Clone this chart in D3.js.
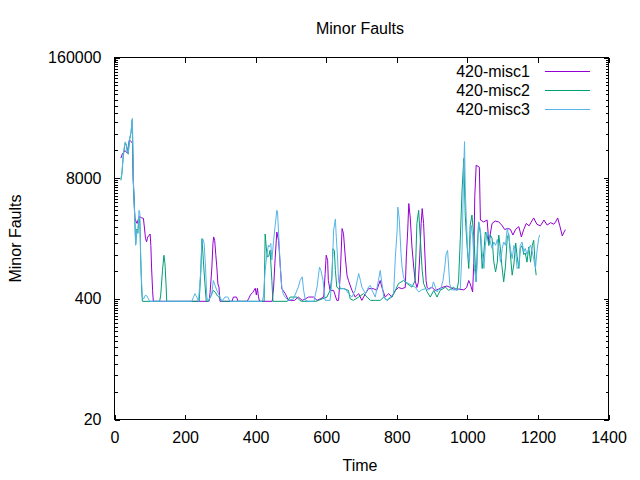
<!DOCTYPE html>
<html>
<head>
<meta charset="utf-8">
<script src="https://cdn.jsdelivr.net/npm/d3@7"></script>
<style>
  body { margin: 0; background: #fff; }
  text { font-family: "Liberation Sans", Arial, sans-serif; }
</style>
</head>
<body>
<div id="vis"></div>
<script>

// series names and colours (gnuplot defaults)
var seriesNames = ["420-misc1", "420-misc2", "420-misc3"];
var seriesColors = ["#9400d3", "#009e73", "#56b4e9"];

var xTicks = [0, 200, 400, 600, 800, 1000, 1200, 1400];
var yTicks = [20, 400, 8000, 160000];

// [time, minor faults]
var misc1 = [[18,13150],[23,14800],[30,15800],[36,15000],[42,20500],[44,20500],[51,19000],[53,7600],[58,2900],[64,2600],[70,3100],[76,3000],[82,2950],[88,1780],[91,1650],[94,1850],[101,2000],[103,1500],[105,880],[108,490],[110,376],
  [150,376],[200,376],[240,376],[268,376],[271,470],[276,880],[279,1580],[281,1860],[284,1700],[287,1200],[290,880],[293,580],[296,536],[299,376],
  [333,376],[337,418],[346,418],[350,376],[376,376],[380,400],[385,440],[392,470],[399,520],[402,440],[405,520],[408,420],[411,376],
  [447,376],[451,536],[455,1050],[460,2100],[465,1700],[470,880],[474,515],[484,455],[493,385],[510,385],[521,418],[532,385],[541,400],[550,418],[564,418],[574,385],[583,400],[593,418],[597,750],[600,1180],[604,1040],[606,630],[611,493],[621,493],[630,385],[635,385],[640,750],[645,2290],[649,2020],[654,1130],[659,716],[663,630],[673,493],[682,418],[692,455],[701,385],[711,455],[720,515],[734,515],[743,493],[753,630],[758,530],[767,418],[777,455],[786,418],[796,493],[805,530],[814,515],[824,530],[827,1130],[831,2200],[834,4260],[838,3050],[843,1450],[848,880],[852,630],[857,530],[861,600],[865,1130],[869,2600],[872,3760],[876,2600],[880,1130],[883,630],[886,530],[890,515],[900,530],[909,493],[919,510],[928,530],[942,550],[952,530],[961,510],[975,510],[990,500],[998,530],[1004,630],[1008,580],[1015,475],[1018,960],[1021,5030],[1025,11050],[1034,10500],[1037,2830],[1046,2700],[1056,2830],[1061,1600],[1065,2000],[1070,2600],[1079,2760],[1089,2700],[1098,2480],[1106,2230],[1113,2300],[1122,2250],[1129,1950],[1137,2250],[1146,2400],[1153,1860],[1160,2250],[1167,2600],[1175,2450],[1180,2650],[1188,2980],[1197,2550],[1207,2450],[1217,2830],[1226,2500],[1236,2650],[1245,2550],[1250,2700],[1256,2980],[1262,2450],[1269,1910],[1274,2100],[1278,2230]];

var misc2 = [[18,7600],[21,9000],[25,14000],[30,19000],[33,18500],[36,15800],[39,14500],[42,20000],[47,25000],[49,31000],[50.5,34000],[53.4,7600],[58,2600],[60,1550],[63,2250],[66,2050],[69.5,3000],[72,2600],[74,1150],[77,500],[79,376],
  [128,376],[131,440],[136,810],[140,1180],[143,960],[146,580],[148,376],
  [240,376],[244,700],[248,1780],[252,1000],[256,600],[260,376],[266,376],[272,418],[280,493],[286,470],[292,430],[298,410],[304,376],
  [424,376],[427,2000],[430,1450],[433,1130],[437,1150],[441,1340],[446,630],[449,376],[490,376],[498,418],[517,418],[525,385],[531,376],[571,376],[602,418],[611,493],[616,690],[619,1390],[623,1330],[626,810],[630,535],[635,515],[649,515],[663,493],[668,400],[677,385],[692,418],[706,455],[716,418],[725,385],[739,385],[753,385],[763,418],[772,385],[786,418],[796,493],[805,585],[819,630],[829,585],[843,535],[852,630],[857,2600],[862,3600],[867,1710],[872,810],[876,585],[886,475],[895,418],[905,493],[914,418],[923,493],[938,535],[947,493],[961,535],[970,493],[975,610],[980,1780],[985,6000],[990,13100],[994,3200],[999,1510],[1004,850],[1008,2480],[1013,3200],[1018,1950],[1023,850],[1025,610],[1028,1390],[1032,2700],[1037,2000],[1042,850],[1047,1300],[1051,2100],[1056,1950],[1061,1500],[1065,1950],[1070,1800],[1075,1000],[1080,780],[1085,1000],[1089,1950],[1094,1350],[1098,900],[1103,610],[1108,900],[1113,1800],[1117,2020],[1122,1200],[1127,720],[1132,950],[1137,1600],[1141,1150],[1146,850],[1150,1400],[1155,1500],[1160,1200],[1164,1250],[1169,995],[1174,1450],[1179,995],[1184,1510],[1188,1710],[1193,850],[1195,720]];

var misc3 = [[18,7760],[21,9000],[25,14750],[30,19700],[33,18800],[36,16000],[39,14750],[42,20600],[47,25300],[49,31200],[50.6,35300],[53.4,7640],[58,2590],[60,1510],[63,2200],[66,2020],[69.5,3600],[72,3330],[74,1230],[77,585],[79,418],[83,400],[87,436],[92,430],[96,400],[100,376],
  [219,376],[224,420],[228,455],[233,420],[238,376],[244.5,810],[247,1450],[250,1780],[254,1580],[258,880],[261.5,418],[266,376],[271,420],[275,430],[280,630],[285,560],[290,493],[295,455],[304,376],[313,418],[321,418],[327,376],
  [418,376],[422,420],[427,810],[431,1130],[436,1510],[439,1450],[443,1580],[446,1050],[451,1710],[455,2400],[460,3600],[462,3450],[467,1450],[470,880],[474,536],[478,455],[483,418],[493,385],[507,400],[521,536],[526,630],[532,690],[536,493],[541,385],[550,376],[565,376],[574,536],[581,880],[585,810],[591,630],[594,493],[597,385],[611,385],[616,630],[621,2200],[626,2900],[628,2020],[632,1130],[635,630],[640,515],[654,515],[663,455],[673,418],[682,493],[692,750],[697,630],[701,536],[711,455],[720,536],[725,560],[730,493],[739,418],[748,630],[753,810],[758,585],[763,418],[772,385],[782,418],[791,455],[796,1130],[801,2200],[803,3900],[807,2900],[812,1230],[815,880],[819,690],[824,610],[834,585],[843,558],[852,536],[862,475],[871,500],[881,515],[890,500],[900,536],[904,610],[909,536],[914,475],[919,510],[924,500],[931,632],[936,880],[940,1230],[944,1330],[947,880],[950,584],[955,500],[971,500],[980,515],[985,1330],[989,8000],[992,19800],[994,6200],[997,2950],[1001,1280],[1006,995],[1008,1640],[1011,2480],[1015,1950],[1020,850],[1025,610],[1028,1000],[1032,2700],[1037,2200],[1042,1280],[1047,850],[1051,1510],[1056,2100],[1061,1950],[1065,1640],[1070,1400],[1075,1640],[1080,1510],[1085,1750],[1089,1400],[1094,995],[1099,1400],[1103,1640],[1108,1510],[1113,2290],[1117,1950],[1122,1400],[1127,1080],[1132,1510],[1137,1280],[1141,850],[1146,900],[1150,1510],[1155,1640],[1160,1280],[1164,1400],[1169,1200],[1174,1400],[1179,1510],[1184,1280],[1188,1080],[1193,850],[1197,1280],[1202,1780],[1205,1950]];

var allSeries = [misc1, misc2, misc3];

var W = 640, H = 480,
    plotLeft = 114.5, plotRight = 608.5, plotTop = 57.5, plotBottom = 419.5;

// minor ticks at k * 20^n, like gnuplot's log base 20 axis
var yMinor = [];
[20, 400, 8000].forEach(function(b) {
  for (var k = 2; k < 20; k++) yMinor.push(k * b);
});

var x = d3.scaleLinear().domain([0, 1400]).range([plotLeft, plotRight]);
var y = d3.scaleLog().base(20).domain([20, 160000]).range([plotBottom, plotTop]);

var svg = d3.select("#vis")
  .append("svg")
    .attr("width", W)
    .attr("height", H)
    .style("background", "#fff");

function styleAxis(g) {
  g.select(".domain").remove();
  g.selectAll("line").attr("stroke", "#000").attr("shape-rendering", "crispEdges");
  g.selectAll("text")
    .attr("fill", "#000")
    .style("font-family", "'Liberation Sans', Arial, sans-serif")
    .style("font-size", "16px");
}

// axes: labelled on left/bottom, mirrored ticks on right/top
svg.append("g").attr("transform", "translate(" + plotLeft + ",0)")
  .call(d3.axisLeft(y).tickValues(yTicks).tickSize(-5).tickPadding(13).tickFormat(d3.format("d")))
  .call(styleAxis);
svg.append("g").attr("transform", "translate(" + plotLeft + ",0)")
  .call(d3.axisLeft(y).tickValues(yMinor).tickSize(-3).tickFormat(""))
  .call(styleAxis);
svg.append("g").attr("transform", "translate(" + plotRight + ",0)")
  .call(d3.axisRight(y).tickValues(yTicks).tickSize(-5).tickFormat(""))
  .call(styleAxis);
svg.append("g").attr("transform", "translate(" + plotRight + ",0)")
  .call(d3.axisRight(y).tickValues(yMinor).tickSize(-3).tickFormat(""))
  .call(styleAxis);
svg.append("g").attr("transform", "translate(0," + plotBottom + ")")
  .call(d3.axisBottom(x).tickValues(xTicks).tickSize(-5).tickPadding(12).tickFormat(d3.format("d")))
  .call(styleAxis);
svg.append("g").attr("transform", "translate(0," + plotTop + ")")
  .call(d3.axisTop(x).tickValues(xTicks).tickSize(-5).tickFormat(""))
  .call(styleAxis);

svg.append("rect")
  .attr("x", plotLeft).attr("y", plotTop)
  .attr("width", plotRight - plotLeft).attr("height", plotBottom - plotTop)
  .attr("fill", "none").attr("stroke", "#000")
  .attr("shape-rendering", "crispEdges");

var line = d3.line()
  .x(function(d) { return x(d[0]); })
  .y(function(d) { return y(d[1]); });

svg.selectAll(".series")
  .data(allSeries)
  .enter().append("path")
    .attr("class", "series")
    .attr("d", line)
    .attr("fill", "none")
    .attr("stroke-width", 1)
    .attr("stroke", function(d, i) { return seriesColors[i]; });

// legend
var legend = svg.selectAll(".legend")
  .data(seriesNames)
  .enter().append("g")
    .attr("class", "legend")
    .attr("transform", function(d, i) { return "translate(0," + (71.5 + i * 19) + ")"; });
legend.append("text")
  .attr("x", 530).attr("y", 5.5)
  .attr("text-anchor", "end")
  .style("font-size", "16px")
  .text(function(d) { return d; });
legend.append("line")
  .attr("x1", 545).attr("x2", 590)
  .attr("stroke", function(d, i) { return seriesColors[i]; })
  .attr("shape-rendering", "crispEdges");

svg.append("text")
  .attr("x", 360).attr("y", 33.5)
  .attr("text-anchor", "middle")
  .style("font-size", "16px")
  .text("Minor Faults");

svg.append("text")
  .attr("x", 360).attr("y", 471)
  .attr("text-anchor", "middle")
  .style("font-size", "16px")
  .text("Time");

svg.append("text")
  .attr("transform", "translate(21," + ((plotTop + plotBottom) / 2) + ") rotate(-90)")
  .attr("text-anchor", "middle")
  .style("font-size", "16px")
  .text("Minor Faults");

</script>
</body>
</html>
